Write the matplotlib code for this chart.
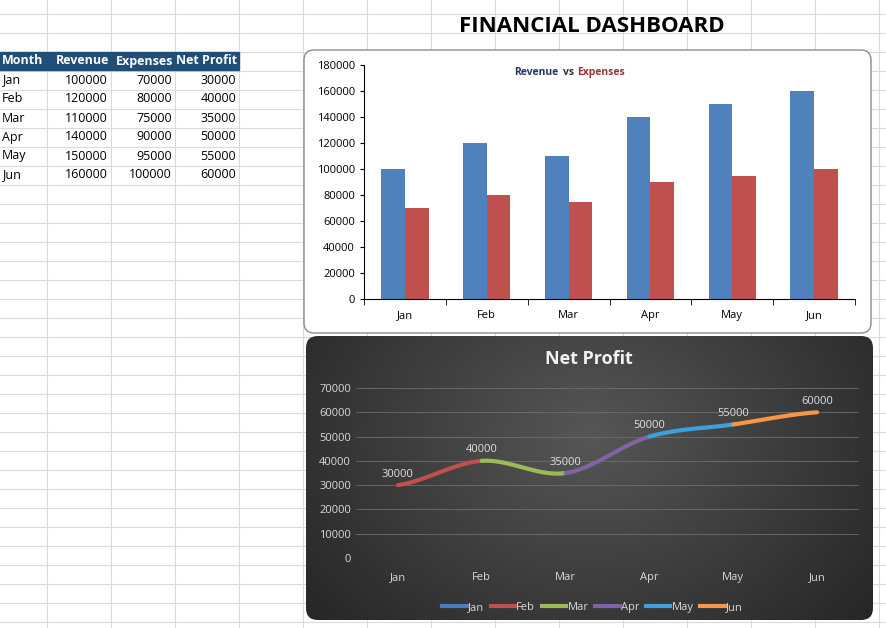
import matplotlib
matplotlib.use("Agg")
import matplotlib.pyplot as plt
import numpy as np
from matplotlib.patches import FancyBboxPatch, Rectangle

plt.rcParams['font.family'] = ['Open Sans', 'DejaVu Sans']

months = ['Jan', 'Feb', 'Mar', 'Apr', 'May', 'Jun']
revenue = [100000, 120000, 110000, 140000, 150000, 160000]
expenses = [70000, 80000, 75000, 90000, 95000, 100000]
net_profit = [30000, 40000, 35000, 50000, 55000, 60000]
headers = ['Month', 'Revenue', 'Expenses', 'Net Profit']
series_colors = ['#4a7dc0', '#c0504d', '#9bbb59', '#8064a2', '#3ba0dc', '#f79646']

W, H = 886, 628
fig = plt.figure(figsize=(W / 100, H / 100), dpi=100)


def px_axes(x0, y0, x1, y1, **kw):
    # axes from pixel box (top-left origin)
    return fig.add_axes([x0 / W, 1 - y1 / H, (x1 - x0) / W, (y1 - y0) / H], **kw)


# spreadsheet background grid
bg = px_axes(0, 0, W, H)
bg.set_xlim(0, W)
bg.set_ylim(H, 0)
bg.axis('off')
cols = [0, 47, 111, 175, 239, 303, 367, 431, 495, 559, 623, 687, 751, 815, 879]
for cx in cols[1:]:
    bg.axvline(cx, color='#dadada', lw=0.8)
for ry in np.arange(14, H, 19):
    bg.axhline(ry, color='#dadada', lw=0.8)

# data table
bg.add_patch(Rectangle((0, 52), 239, 18, color='#1f4e79', zorder=2))
for i, h in enumerate(headers):
    if i == 0:
        bg.text(2, 61, h, color='white', fontsize=9, weight='bold', va='center', zorder=3)
    else:
        bg.text(cols[i + 1] - 2, 61, h, color='white', fontsize=9, weight='bold',
                va='center', ha='right', zorder=3)
for r, m in enumerate(months):
    yy = 80 + r * 19
    bg.text(2, yy, m, fontsize=9, va='center')
    for c, v in enumerate([revenue[r], expenses[r], net_profit[r]]):
        bg.text(cols[c + 2] - 3, yy, str(v), fontsize=9, va='center', ha='right')

bg.text(592, 27, 'FINANCIAL DASHBOARD', fontsize=16, weight='bold', ha='center', va='center')

# bar chart panel
bg.add_patch(FancyBboxPatch((304, 50), 567, 283, boxstyle='round,pad=0,rounding_size=10',
                            fc='white', ec='#8c8c8c', lw=1, zorder=2))
ax1 = px_axes(364, 65, 855, 299)
x = np.arange(len(months))
ax1.bar(x - 0.145, revenue, 0.29, color='#4f81bd')
ax1.bar(x + 0.145, expenses, 0.29, color='#c0504d')
ax1.set_xlim(-0.5, 5.5)
ax1.set_ylim(0, 180000)
ax1.set_yticks(range(0, 180001, 20000))
ax1.set_xticks(x, months)
ax1.tick_params(labelsize=8, length=3)
ax1.set_xticks(np.arange(-0.5, 6, 1), minor=True)
ax1.tick_params(axis='x', which='major', length=0, pad=8)
ax1.tick_params(axis='x', which='minor', length=4)
for s in ['top', 'right']:
    ax1.spines[s].set_visible(False)
ax1.text(0.395, 0.97, 'Revenue', color='#1f3864', fontsize=7.5, weight='bold',
         transform=ax1.transAxes, ha='right', va='center')
ax1.text(0.405, 0.97, 'vs', color='#333333', fontsize=7.5, weight='bold',
         transform=ax1.transAxes, ha='left', va='center')
ax1.text(0.435, 0.97, 'Expenses', color='#943634', fontsize=7.5, weight='bold',
         transform=ax1.transAxes, ha='left', va='center')

# net profit panel with radial gradient
panel = FancyBboxPatch((306, 336), 567, 284, boxstyle='round,pad=0,rounding_size=12',
                       fc='none', ec='none', transform=bg.transData)
bg.add_patch(panel)
yy, xx = np.mgrid[0:284, 0:567]
rad = np.sqrt(((xx - 283) / 330) ** 2 + ((yy - 100) / 260) ** 2)
grad = np.clip(0.34 - 0.17 * rad, 0.15, 0.34)
im = bg.imshow(grad, cmap='gray', vmin=0, vmax=1, extent=(306, 873, 620, 336),
               zorder=3, aspect='auto')
im.set_clip_path(panel)
bg.set_xlim(0, W)
bg.set_ylim(H, 0)
bg.text(589, 359, 'Net Profit', color='#f2f2f2', fontsize=13, weight='bold',
        ha='center', va='center', zorder=4)

ax2 = px_axes(356, 388, 859, 558)
ax2.patch.set_alpha(0)
ax2.set_xlim(-0.5, 5.5)
ax2.set_ylim(0, 70000)
ax2.set_yticks(range(0, 70001, 10000))
ax2.set_xticks(x, months)
ax2.grid(axis='y', color='#6e6e6e', lw=0.6)
ax2.tick_params(colors='#d9d9d9', labelsize=8, length=0)
ax2.tick_params(axis='x', pad=10)
for s in ax2.spines.values():
    s.set_visible(False)

# smooth curve through points (Catmull-Rom), segment colored by series
pts = np.array(net_profit, float)
for i in range(len(pts) - 1):
    p0 = pts[max(i - 1, 0)]
    p1, p2 = pts[i], pts[i + 1]
    p3 = pts[min(i + 2, len(pts) - 1)]
    t = np.linspace(0, 1, 40)
    yv = 0.5 * ((2 * p1) + (-p0 + p2) * t + (2 * p0 - 5 * p1 + 4 * p2 - p3) * t ** 2
                + (-p0 + 3 * p1 - 3 * p2 + p3) * t ** 3)
    ax2.plot(i + t, yv, color=series_colors[i + 1], lw=3, solid_capstyle='round')
for i, v in enumerate(net_profit):
    ax2.text(i, v + 4500, str(v), color='#e0e0e0', fontsize=8, ha='center', va='center')

handles = [plt.Line2D([], [], color=c, lw=3) for c in series_colors]
leg = ax2.legend(handles, months, loc='upper center', bbox_to_anchor=(0.47, -0.2),
                 ncol=6, frameon=False, fontsize=8, labelcolor='#d9d9d9',
                 handlelength=2.2, handletextpad=0.1, columnspacing=0.6)

fig.savefig('out.png', dpi=100)
